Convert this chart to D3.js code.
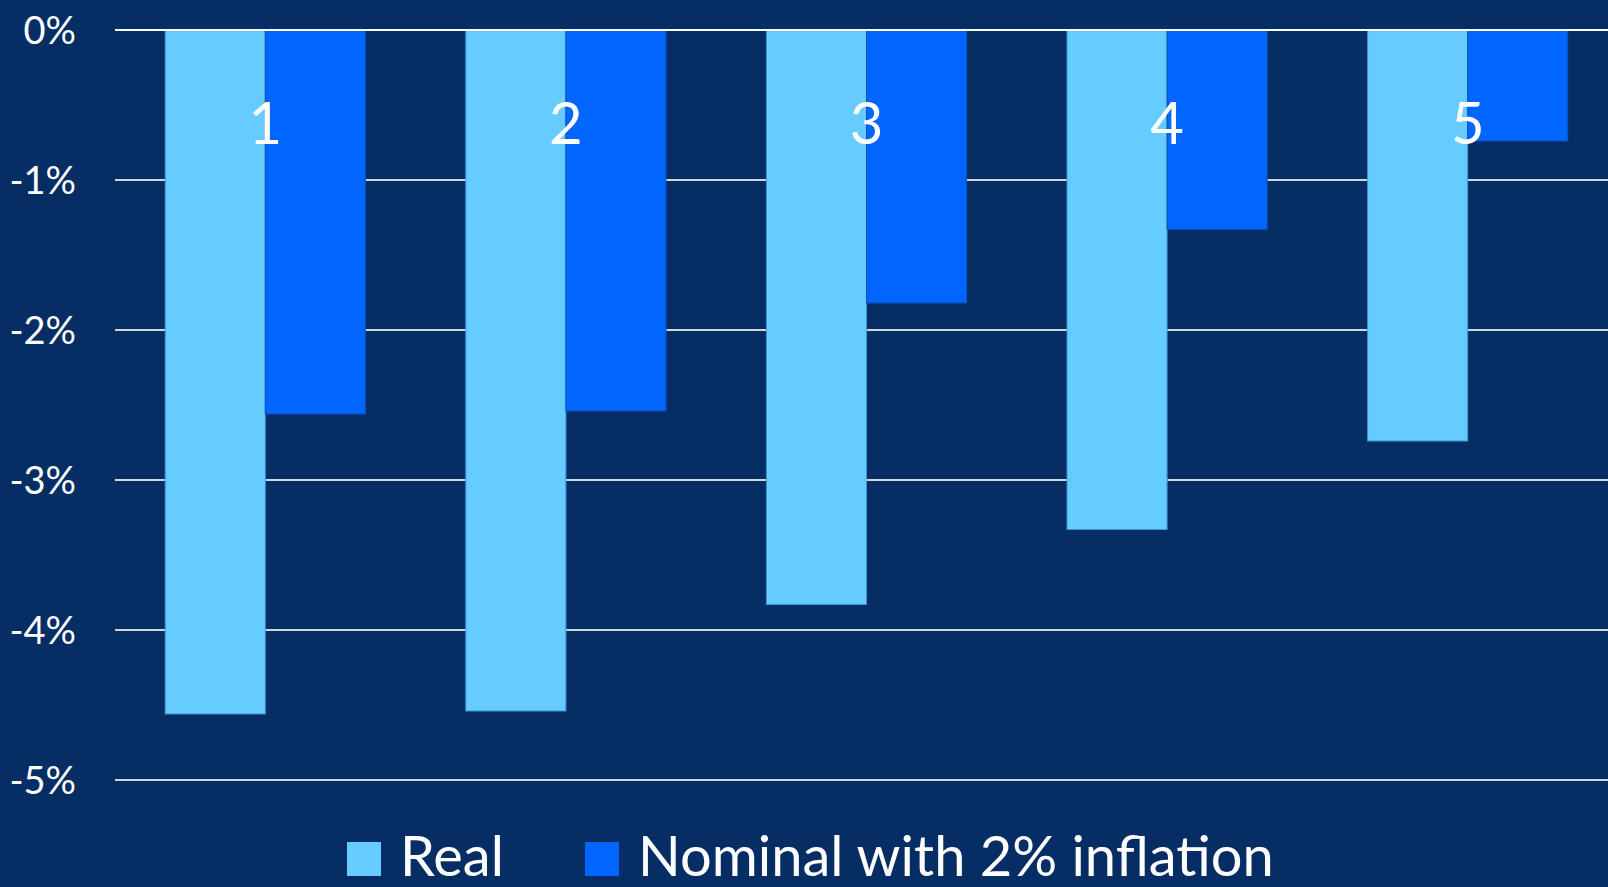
<!DOCTYPE html>
<html>
<head>
<meta charset="utf-8">
<script src="https://cdn.jsdelivr.net/npm/d3@7"></script>
<style>
  html, body { margin: 0; padding: 0; background: #062e64; overflow: hidden; }
  svg { display: block; }
  text { font-family: Lato, "Open Sans", sans-serif; fill: #ffffff; }
</style>
</head>
<body>
<svg id="chart" width="1608" height="887"></svg>
<script>
const categories = ["1", "2", "3", "4", "5"];
const seriesNames = ["Real", "Nominal with 2% inflation"];
const realValues = [-4.56, -4.54, -3.83, -3.33, -2.74];
const nominalValues = [-2.56, -2.54, -1.82, -1.33, -0.74];
const yTicks = [0, -1, -2, -3, -4, -5];
const tickLabels = ["0%", "-1%", "-2%", "-3%", "-4%", "-5%"];
const colors = ["#66ccff", "#0066ff"];
const strokes = ["#3f93d6", "#0a50b8"];

const W = 1608, H = 887;
const margin = { left: 115, right: -10, top: 30 };
const svg = d3.select("#chart");

svg.append("rect").attr("width", W).attr("height", H).attr("fill", "#062e64");

const x = d3.scaleBand()
  .domain(categories)
  .range([margin.left, W - margin.right])
  .paddingInner(0.334)
  .paddingOuter(0.167);

const x1 = d3.scaleBand()
  .domain(seriesNames)
  .range([0, x.bandwidth()]);

const y = d3.scaleLinear().domain([0, -5]).range([30, 780]);

// gridlines (non-zero)
svg.append("g").selectAll("line")
  .data(yTicks.filter(d => d !== 0))
  .join("line")
  .attr("x1", margin.left).attr("x2", W)
  .attr("y1", d => y(d)).attr("y2", d => y(d))
  .attr("stroke", "#d3d8e0").attr("stroke-width", 2);

// y axis labels
const yAxis = d3.axisLeft(y).tickValues(yTicks)
  .tickFormat((d, i) => tickLabels[i]).tickSize(0).tickPadding(0);
const gy = svg.append("g").attr("transform", "translate(76,0)").call(yAxis);
gy.select(".domain").remove();
gy.selectAll("text")
  .attr("fill", "#ffffff")
  .style("font-family", "Lato, 'Open Sans', sans-serif")
  .style("font-size", "38px")
  .attr("dy", "0.36em");

// bars
const rows = categories.map((c, i) => ({ cat: c, vals: [realValues[i], nominalValues[i]] }));
const groups = svg.append("g").selectAll("g")
  .data(rows).join("g")
  .attr("transform", d => `translate(${x(d.cat)},0)`);

groups.selectAll("rect")
  .data(d => d.vals.map((v, j) => ({ key: seriesNames[j], v, j })))
  .join("rect")
  .attr("x", d => x1(d.key))
  .attr("y", y(0))
  .attr("width", x1.bandwidth())
  .attr("height", d => y(d.v) - y(0))
  .attr("fill", d => colors[d.j])
  .attr("stroke", d => strokes[d.j])
  .attr("stroke-width", 1);

// zero line
svg.append("line")
  .attr("x1", margin.left).attr("x2", W)
  .attr("y1", y(0)).attr("y2", y(0))
  .attr("stroke", "#ffffff").attr("stroke-width", 2);

// category labels
svg.append("g").selectAll("text")
  .data(categories).join("text")
  .attr("x", d => x(d) + x.bandwidth() / 2)
  .attr("y", 144)
  .attr("text-anchor", "middle")
  .style("font-size", "58px")
  .text(d => d);

// legend
const legend = svg.append("g");
const legendItems = [
  { name: seriesNames[0], sx: 347, tx: 400 },
  { name: seriesNames[1], sx: 585, tx: 638 }
];
legendItems.forEach((it, i) => {
  legend.append("rect")
    .attr("x", it.sx).attr("y", 842)
    .attr("width", 34).attr("height", 34)
    .attr("fill", colors[i]);
  legend.append("text")
    .attr("x", it.tx).attr("y", 876)
    .style("font-size", "56px")
    .text(it.name);
});
</script>
</body>
</html>
